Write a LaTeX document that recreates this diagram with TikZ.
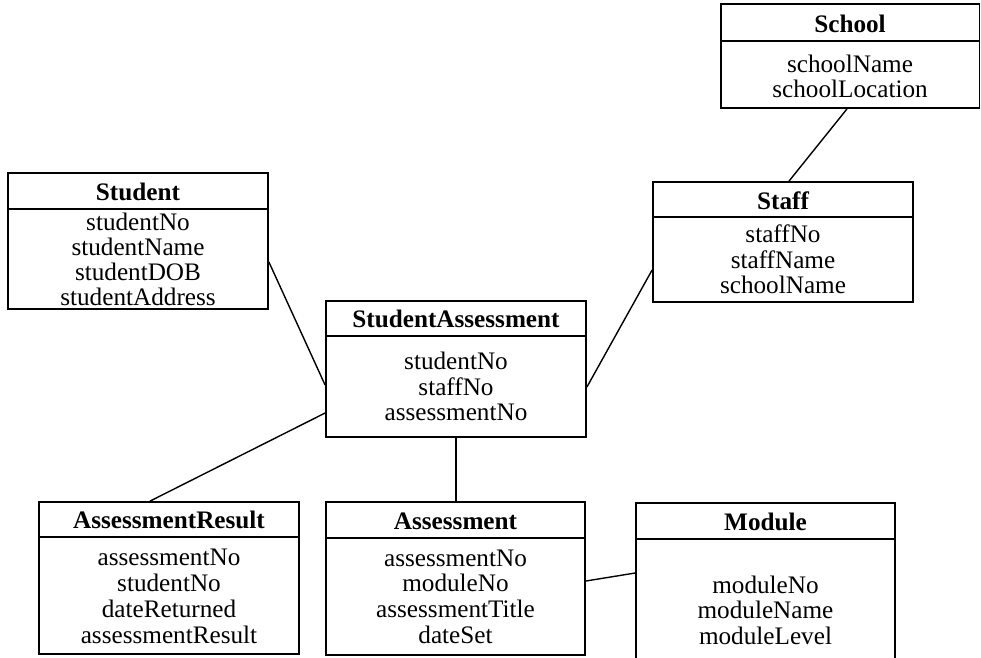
\documentclass[tikz,border=0pt]{standalone}
\usepackage{fontspec}
\setmainfont{Liberation Serif}
\begin{document}
\begin{tikzpicture}[x=1pt,y=-1pt,
  box/.style={draw, line width=1.8pt, inner sep=0pt},
  sep/.style={line width=2.8pt},
  link/.style={line width=1.4pt},
  title/.style={anchor=base, inner sep=0pt, font=\fontsize{25.2}{25}\selectfont\bfseries},
  attr/.style={anchor=base, inner sep=0pt, font=\fontsize{25.2}{25}\selectfont}]
\useasboundingbox (0,0) rectangle (981,657);

% class box: name, left, top, right, bottom, y of the title rule
\newcommand{\classbox}[6]{%
  \node[box, minimum width={#4-#2}, minimum height={#5-#3}] (#1) at ({(#2+#4)/2},{(#3+#5)/2}) {};
  \draw[sep] (#1.west |- 0,#6) -- (#1.east |- 0,#6);
}

% boxes
\classbox{student}{8}{173}{268}{309}{209}
\classbox{school}{721}{4}{979.5}{108}{41}
\classbox{staff}{653}{182}{913}{302}{217}
\classbox{sa}{326}{301}{586}{437}{336}
\classbox{ar}{39}{502}{299}{654}{537}
\classbox{asm}{326}{502}{585}{655}{538}
\classbox{module}{636}{503}{895}{662}{539}

% Student
\node[title] (student-t) at (138,200) {Student};
\node[attr] (student-1) at (138,230) {studentNo};
\node[attr] (student-2) at (138,255) {studentName};
\node[attr] (student-3) at (138,280) {studentDOB};
\node[attr] (student-4) at (138,305) {studentAddress};

% School
\node[title] (school-t) at (850,32) {School};
\node[attr] (school-1) at (850,72) {schoolName};
\node[attr] (school-2) at (850,97) {schoolLocation};

% Staff
\node[title] (staff-t) at (783,209) {Staff};
\node[attr] (staff-1) at (783,242) {staffNo};
\node[attr] (staff-2) at (783,268) {staffName};
\node[attr] (staff-3) at (783,293) {schoolName};

% StudentAssessment
\node[title] (sa-t) at (456,327) {StudentAssessment};
\node[attr] (sa-1) at (456,369) {studentNo};
\node[attr] (sa-2) at (456,395) {staffNo};
\node[attr] (sa-3) at (456,420) {assessmentNo};

% AssessmentResult
\node[title] (ar-t) at (169,528) {AssessmentResult};
\node[attr] (ar-1) at (169,565) {assessmentNo};
\node[attr] (ar-2) at (169,591) {studentNo};
\node[attr] (ar-3) at (169,617) {dateReturned};
\node[attr] (ar-4) at (169,643) {assessmentResult};

% Assessment
\node[title] (asm-t) at (455.5,529) {Assessment};
\node[attr] (asm-1) at (455.5,566) {assessmentNo};
\node[attr] (asm-2) at (455.5,591) {moduleNo};
\node[attr] (asm-3) at (455.5,617) {assessmentTitle};
\node[attr] (asm-4) at (455.5,643) {dateSet};

% Module
\node[title] (module-t) at (765.5,530) {Module};
\node[attr] (module-1) at (765.5,593) {moduleNo};
\node[attr] (module-2) at (765.5,618) {moduleName};
\node[attr] (module-3) at (765.5,644) {moduleLevel};

% relationships
\draw[link] (school.south -| 847,0) -- (staff.north -| 789,0);
\draw[link] (student.east |- 0,262) -- (sa.west |- 0,385);
\draw[link] (sa.west |- 0,413) -- (ar.north -| 150,0);
\draw[link] (sa.east |- 0,387) -- (staff.west |- 0,270);
\draw[link] (sa.south) -- (asm.north -| sa.south);
\draw[link] (asm.east |- 0,581) -- (module.west |- 0,573);
\end{tikzpicture}
\end{document}
